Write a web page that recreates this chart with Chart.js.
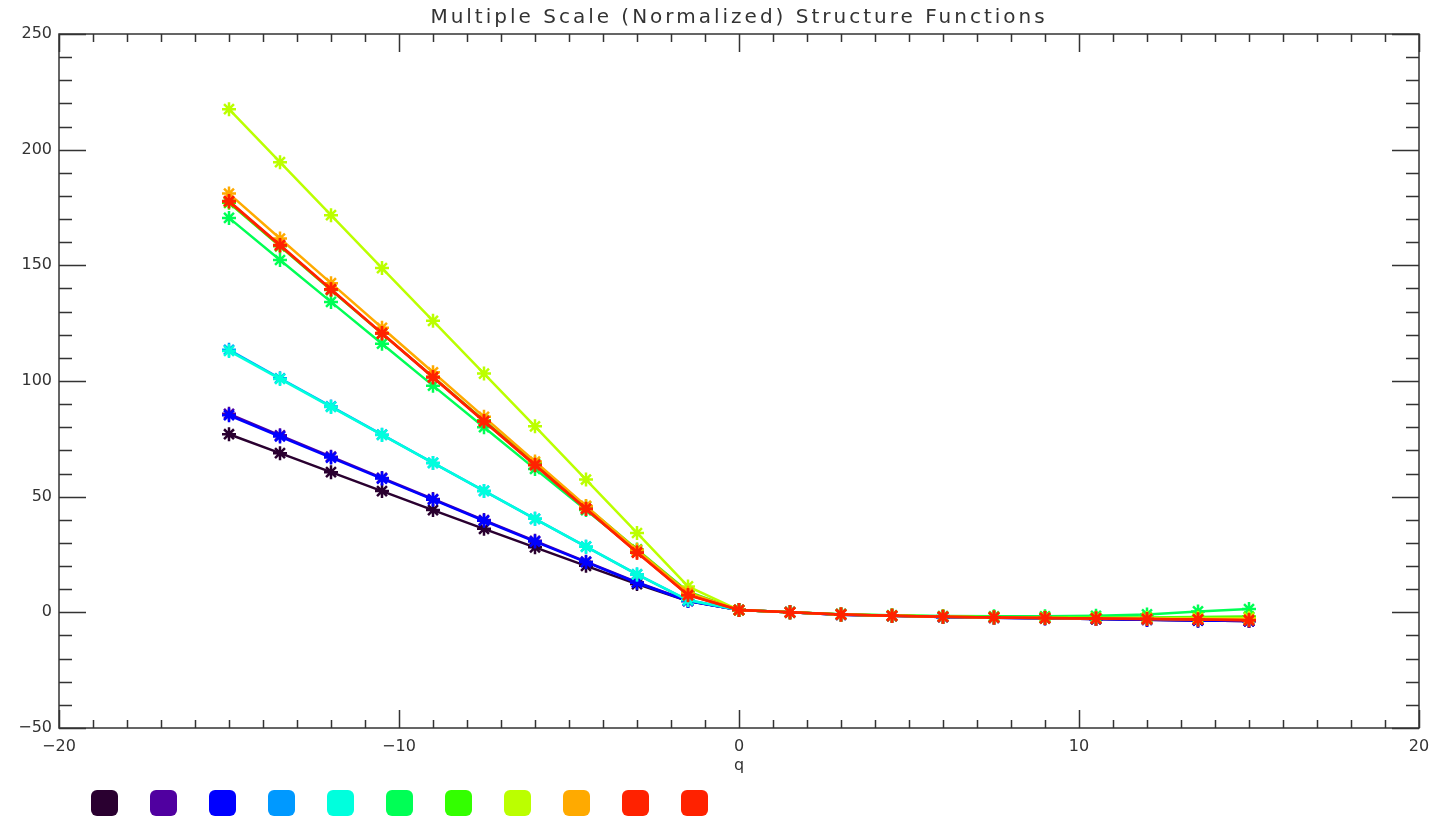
<!DOCTYPE html>
<html>
<head>
<meta charset="utf-8">
<title>Multiple Scale (Normalized) Structure Functions</title>
<script src="https://cdn.jsdelivr.net/npm/chart.js@4/dist/chart.umd.min.js"></script>
<style>
    html, body { margin: 0; padding: 0; background: #fff; }
    #wrap { width: 1435px; height: 817px; }
</style>
</head>
<body>
<div id="wrap"><canvas id="sfChart" width="1435" height="817"></canvas></div>
<script>
const TITLE = 'Multiple Scale (Normalized) Structure Functions'

// moment order q
const qValues = [
    -15, -13.5, -12, -10.5, -9, -7.5, -6, -4.5, -3, -1.5, 0,
    1.5, 3, 4.5, 6, 7.5, 9, 10.5, 12, 13.5, 15,
]

// one curve per scale, smallest to largest
const scale1 = [77, 68.8, 60.6, 52.4, 44.2, 36.1, 28.1, 20.1, 12.2, 4.9, 1, 0, -1, -1.5, -2, -2.3, -2.6, -2.9, -3.2, -3.5, -3.8]
const scale2 = [85.8, 76.5, 67.3, 58.1, 49, 39.9, 30.9, 21.9, 13, 5, 1, 0, -1, -1.5, -2, -2.3, -2.6, -2.9, -3.2, -3.5, -3.8]
const scale3 = [85.2, 76, 66.9, 57.8, 48.7, 39.6, 30.6, 21.7, 12.8, 4.9, 1, 0, -1, -1.5, -2, -2.3, -2.6, -2.9, -3.2, -3.5, -3.8]
const scale4 = [113.5, 101.2, 89, 76.8, 64.6, 52.5, 40.4, 28.4, 16.4, 5.2, 1, 0, -0.9, -1.5, -1.9, -2.2, -2.4, -2.6, -2.8, -3, -3.2]
const scale5 = [113, 100.9, 88.8, 76.7, 64.6, 52.5, 40.4, 28.4, 16.4, 5.3, 1, 0, -0.9, -1.5, -1.9, -2.2, -2.4, -2.6, -2.8, -3, -3.2]
const scale6 = [170.5, 152.3, 134.2, 116.1, 98, 80, 62, 44.2, 26.5, 8.5, 1, 0, -0.8, -1.3, -1.6, -1.7, -1.7, -1.5, -0.9, 0.4, 1.4]
const scale7 = [177, 158.2, 139.3, 120.5, 101.8, 83, 64.4, 45.8, 27.2, 8.9, 1, 0, -0.9, -1.4, -1.8, -2, -2.1, -2.2, -2.2, -2, -1.8]
const scale8 = [217.5, 194.6, 171.7, 148.8, 126, 103.2, 80.4, 57.4, 34.3, 11.2, 1, 0, -0.9, -1.4, -1.8, -2.1, -2.3, -2.4, -2.5, -2.5, -2.4]
const scale9 = [181, 161.6, 142.3, 123, 103.8, 84.5, 65.2, 46, 26.9, 8.5, 1, 0, -0.9, -1.5, -1.9, -2.2, -2.5, -2.7, -2.8, -2.9, -3]
const scale10 = [177.6, 158.6, 139.5, 120.5, 101.5, 82.5, 63.6, 44.7, 25.8, 7.4, 1, 0, -0.9, -1.5, -1.9, -2.2, -2.5, -2.7, -2.9, -3.1, -3.4]
const scale11 = [177.8, 158.8, 139.7, 120.7, 101.7, 82.7, 63.8, 44.8, 25.9, 7.5, 1, 0, -0.9, -1.5, -1.9, -2.2, -2.5, -2.7, -2.9, -3.1, -3.4]

const allScales = [scale1, scale2, scale3, scale4, scale5, scale6, scale7, scale8, scale9, scale10, scale11]
const scaleColors = [
    '#2a0030', '#5000a0', '#0000ff', '#0099ff', '#00ffdd', '#00ff55',
    '#33ff00', '#bbff00', '#ffaa00', '#ff2200', '#ff2200',
]

const TEXT_FONT = 'DejaVu Sans'
const INK = '#333'

function minusSign(v) {
    return String(v).replace('-', '\u2212')
}

// IDL style box: frame with inward ticks on all four sides
const frameTicks = {
    id: 'frameTicks',
    beforeDatasetsDraw(chart) {
        const ctx = chart.ctx
        const { left, right, top, bottom } = chart.chartArea
        const xs = chart.scales.x
        const ys = chart.scales.y
        ctx.save()
        ctx.strokeStyle = INK
        ctx.lineWidth = 1.5
        ctx.strokeRect(left, top, right - left, bottom - top)
        ctx.beginPath()
        for (let q = xs.min; q <= xs.max; q++) {
            const px = Math.round(xs.getPixelForValue(q)) + 0.5
            const len = q % 10 === 0 ? 18 : 8
            ctx.moveTo(px, bottom)
            ctx.lineTo(px, bottom - len)
            ctx.moveTo(px, top)
            ctx.lineTo(px, top + len)
        }
        for (let v = ys.min; v <= ys.max; v += 10) {
            const py = Math.round(ys.getPixelForValue(v)) + 0.5
            const len = v % 50 === 0 ? 27 : 13
            ctx.moveTo(left, py)
            ctx.lineTo(left + len, py)
            ctx.moveTo(right, py)
            ctx.lineTo(right - len, py)
        }
        ctx.stroke()
        ctx.restore()
    },
    afterDraw(chart) {
        const ctx = chart.ctx
        const { left, right } = chart.chartArea
        ctx.save()
        // title over the plot box
        ctx.fillStyle = INK
        ctx.font = '20px "' + TEXT_FONT + '"'
        ctx.letterSpacing = '3px'
        ctx.textAlign = 'center'
        ctx.textBaseline = 'middle'
        ctx.fillText(TITLE, (left + right) / 2, 18)
        ctx.letterSpacing = '0px'
        // colour key, one rounded swatch per scale
        chart.data.datasets.forEach((ds, i) => {
            ctx.fillStyle = ds.borderColor
            ctx.beginPath()
            ctx.roundRect(91 + i * 59, 790, 27, 26, 6)
            ctx.fill()
        })
        ctx.restore()
    },
}

// later scales sit on top, so lower draw order for them
const datasets = allScales.map((vals, i) => ({
    label: 'scale ' + (i + 1),
    data: qValues.map((q, j) => ({ x: q, y: vals[j] })),
    order: allScales.length - i,
    borderColor: scaleColors[i],
    backgroundColor: scaleColors[i],
    borderWidth: 2.5,
    pointStyle: 'star',
    pointRadius: 7,
    pointBorderWidth: 2.5,
    pointHoverRadius: 7,
    tension: 0,
}))

const ctx = document.getElementById('sfChart').getContext('2d')
const sfChart = new Chart(ctx, {
    type: 'line',
    data: { datasets: datasets },
    plugins: [frameTicks],
    options: {
        responsive: false,
        animation: false,
        layout: { padding: { top: 34, right: 16, left: 0, bottom: 0 } },
        plugins: {
            legend: { display: false },
            title: { display: false },
            tooltip: { enabled: false },
        },
        scales: {
            x: {
                type: 'linear',
                min: -20,
                max: 20,
                grid: { display: false, drawTicks: false },
                border: { display: false },
                ticks: {
                    stepSize: 10,
                    padding: 9,
                    color: INK,
                    font: { family: TEXT_FONT, size: 16 },
                    maxRotation: 0,
                    callback: (v) => minusSign(v),
                },
                title: {
                    display: true,
                    text: 'q',
                    color: INK,
                    font: { family: TEXT_FONT, size: 16 },
                    padding: { top: 0, bottom: 42 },
                },
                afterFit(scale) {
                    scale.height = 89
                    scale.paddingLeft = 0
                    scale.paddingRight = 0
                },
            },
            y: {
                min: -50,
                max: 250,
                grid: { display: false, drawTicks: false },
                border: { display: false },
                ticks: {
                    stepSize: 50,
                    padding: 7,
                    color: INK,
                    font: { family: TEXT_FONT, size: 16 },
                    callback: (v) => minusSign(v),
                },
                afterFit(scale) {
                    scale.width = 59
                },
            },
        },
    },
})
</script>
</body>
</html>
